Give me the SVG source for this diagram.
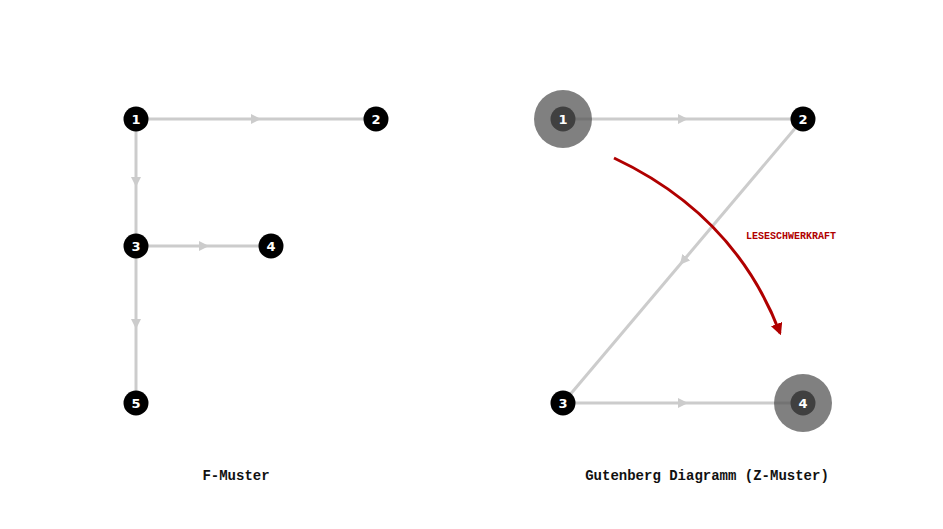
<svg xmlns="http://www.w3.org/2000/svg" width="943" height="529" viewBox="0 0 943 529">
<style>
.c{fill:none;stroke:#cccccc;stroke-width:3;marker-mid:url(#a)}
.n{fill:#000}
.halo{fill:#555;fill-opacity:0.75}
.t{font-family:"DejaVu Sans",sans-serif;font-weight:bold;font-size:13px;fill:#fff;text-anchor:middle}
.ti{font-family:"Liberation Mono","DejaVu Sans Mono",monospace;font-weight:bold;font-size:14px;fill:#111;text-anchor:middle}
</style>
<defs>
<marker id="a" viewBox="0 0 10 10" refX="5" refY="5" markerWidth="10" markerHeight="10" markerUnits="userSpaceOnUse" orient="auto"><path d="M0,0L10,5L0,10z" fill="#cccccc"/></marker>
<marker id="r" viewBox="0 0 10 10" refX="8" refY="5" markerWidth="12" markerHeight="12" markerUnits="userSpaceOnUse" orient="auto"><path d="M0,0L10,5L0,10z" fill="#b00000"/></marker>
</defs>
<rect width="943" height="529" fill="#fff"/>
<g id="connectors">
<path class="c" d="M136,119L256,119L376,119"/>
<path class="c" d="M136,119L136,182L136,246"/>
<path class="c" d="M136,246L204,246L271,246"/>
<path class="c" d="M136,246L136,324L136,403"/>
<path class="c" d="M563,119L683,119L803,119"/>
<path class="c" d="M803,119L683,261L563,403"/>
<path class="c" d="M563,403L683,403L803,403"/>
<path d="M614,158Q735,215 780,333" fill="none" stroke="#b00000" stroke-width="3" marker-end="url(#r)"/>
</g>
<g id="n1"><circle class="n" cx="136" cy="119" r="12.5"/><text class="t" x="136" y="124">1</text></g>
<g id="n2"><circle class="n" cx="376" cy="119" r="12.5"/><text class="t" x="376" y="124">2</text></g>
<g id="n3"><circle class="n" cx="136" cy="246" r="12.5"/><text class="t" x="136" y="251">3</text></g>
<g id="n4"><circle class="n" cx="271" cy="246" r="12.5"/><text class="t" x="271" y="251">4</text></g>
<g id="n5"><circle class="n" cx="136" cy="403" r="12.5"/><text class="t" x="136" y="408">5</text></g>
<g id="g1"><circle class="n" cx="563" cy="119" r="12.5"/><circle class="halo" cx="563" cy="119" r="29"/><text class="t" x="563" y="124">1</text></g>
<g id="g2"><circle class="n" cx="803" cy="119" r="12.5"/><text class="t" x="803" y="124">2</text></g>
<g id="g3"><circle class="n" cx="563" cy="403" r="12.5"/><text class="t" x="563" y="408">3</text></g>
<g id="g4"><circle class="n" cx="803" cy="403" r="12.5"/><circle class="halo" cx="803" cy="403" r="29"/><text class="t" x="803" y="408">4</text></g>
<text x="746" y="239" font-family="Liberation Mono,DejaVu Sans Mono,monospace" font-weight="bold" font-size="10" fill="#b00000">LESESCHWERKRAFT</text>
<text class="ti" x="236" y="480">F-Muster</text>
<text class="ti" x="707" y="480">Gutenberg Diagramm (Z-Muster)</text>
</svg>
